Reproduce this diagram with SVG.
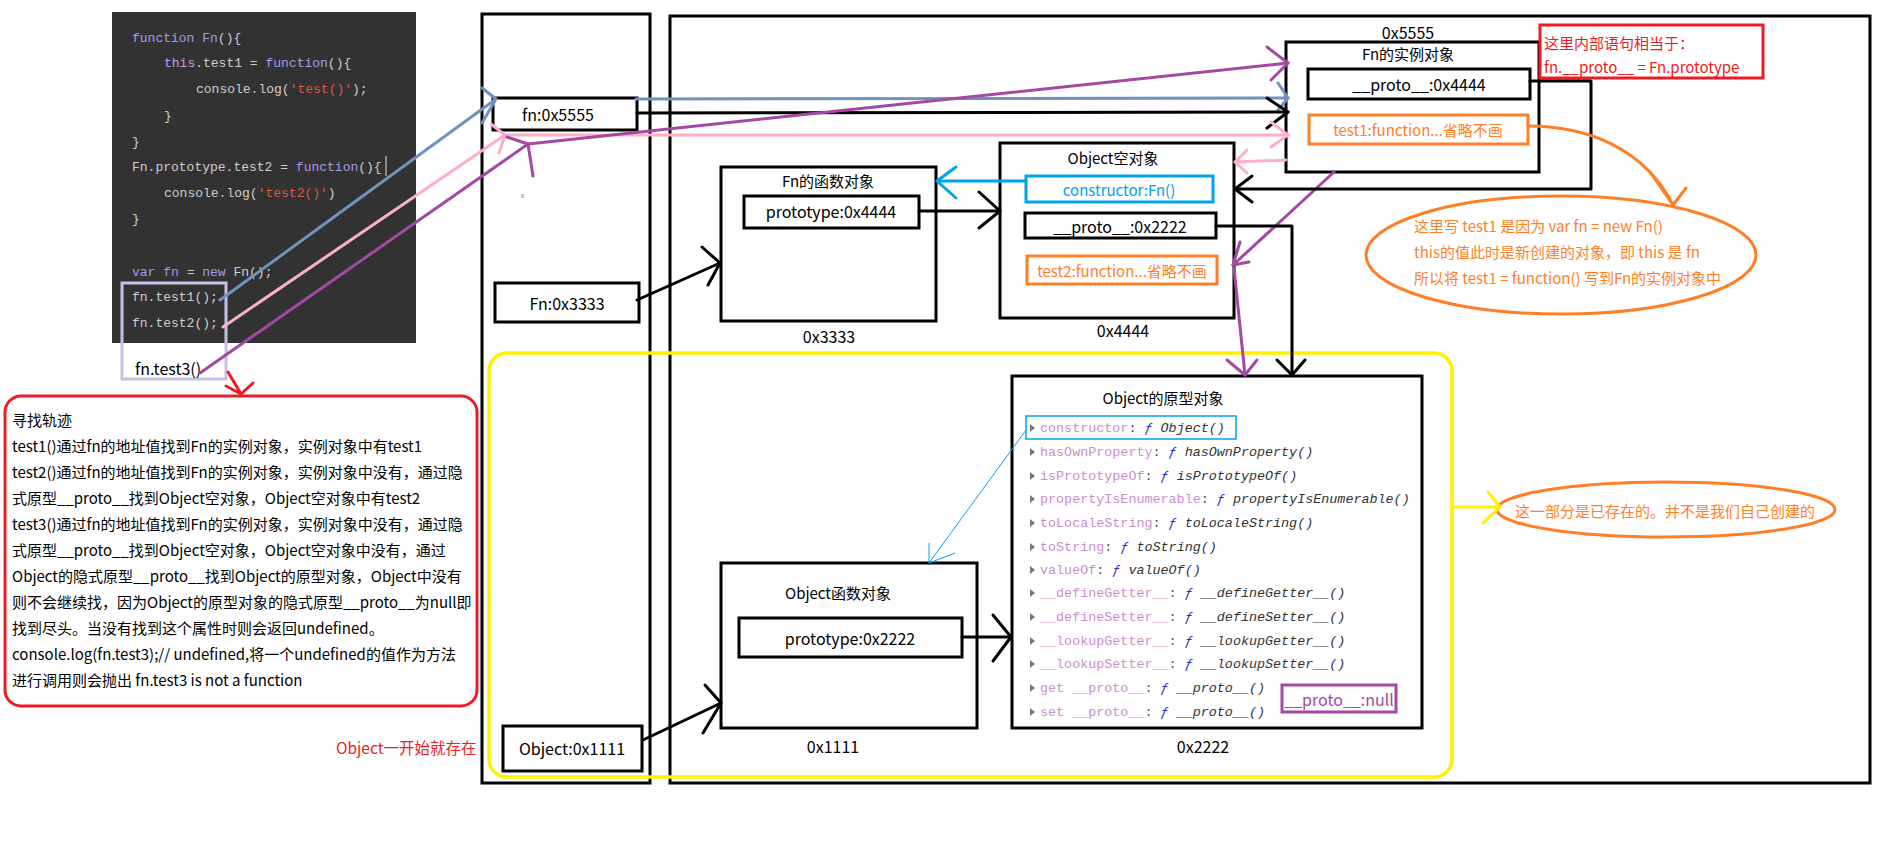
<svg xmlns="http://www.w3.org/2000/svg" width="1894" height="844" viewBox="0 0 1894 844">
<style>
text{font-family:"Noto Sans CJK SC","Noto Sans",sans-serif;dominant-baseline:central;white-space:pre}
.mono{font-family:"Liberation Mono","DejaVu Sans Mono",monospace;font-size:13px}
.bx{fill:none;stroke:#000;stroke-width:3}
.ln{fill:none;stroke-width:3;stroke-linejoin:round;stroke-linecap:round}
.blk{stroke:#000}.blu{stroke:#7092be}.pnk{stroke:#ffaec9}.pur{stroke:#a349a4}.org{stroke:#ff7f27}.yel{stroke:#fff200}.sky{stroke:#00a2e8}.red{stroke:#ed1c24}
.kw{fill:#a79be3}.fnm{fill:#9c9cf0}.ths{fill:#c39ee6}.pl{fill:#cfcfcf}.str{fill:#d9594c}
.k{fill:#c98fc9}.c{fill:#555}.f{fill:#2a2ad0;font-style:italic}.v{fill:#333;font-style:italic}
.pm{font-family:"Liberation Mono","DejaVu Sans Mono",monospace;font-size:13.4px}
.tri{fill:#777}
</style>
<rect width="1894" height="844" fill="#fff"/>

<!-- containers -->
<g id="stack">
<rect class="bx" x="482" y="14" width="168" height="769"/>
</g>
<g id="heap">
<rect class="bx" x="670" y="16" width="1200" height="767"/>
</g>
<g id="builtin-region">
<rect x="489" y="353" width="963" height="424" rx="18" fill="none" stroke="#fff200" stroke-width="3.5"/>
</g>

<!-- code -->
<g id="code">
<rect x="112" y="12" width="304" height="331" fill="#323232"/>
<text class="mono" x="132" y="38"><tspan class="kw">function</tspan><tspan class="pl"> </tspan><tspan class="fnm">Fn</tspan><tspan class="pl">(){</tspan></text>
<text class="mono" x="164" y="63"><tspan class="ths">this</tspan><tspan class="pl">.test1 = </tspan><tspan class="kw">function</tspan><tspan class="pl">(){</tspan></text>
<text class="mono" x="196" y="89"><tspan class="pl">console.log(</tspan><tspan class="str">'test()'</tspan><tspan class="pl">);</tspan></text>
<text class="mono pl" x="164" y="116">}</text>
<text class="mono pl" x="132" y="142">}</text>
<text class="mono" x="132" y="167"><tspan class="pl">Fn.prototype.test2 = </tspan><tspan class="kw">function</tspan><tspan class="pl">(){</tspan></text>
<line x1="386" y1="156" x2="386" y2="176" stroke="#e0e0e0" stroke-width="1"/>
<text class="mono" x="164" y="193"><tspan class="pl">console.log(</tspan><tspan class="str">'test2()'</tspan><tspan class="pl">)</tspan></text>
<text class="mono pl" x="132" y="219">}</text>
<text class="mono" x="132" y="272"><tspan class="kw">var</tspan><tspan class="pl"> </tspan><tspan class="fnm">fn</tspan><tspan class="pl"> = </tspan><tspan class="kw">new</tspan><tspan class="pl"> Fn();</tspan></text>
<text class="mono pl" x="132" y="297">fn.test1();</text>
<text class="mono pl" x="132" y="323">fn.test2();</text>
<rect x="122" y="283" width="104" height="96" fill="none" stroke="#c8bfe7" stroke-width="3"/>
<text x="135" y="368" font-size="16" fill="#000">fn.test3()</text>
</g>

<!-- explanation box -->
<g id="trace-note">
<rect x="5" y="396" width="472" height="310" rx="16" fill="none" stroke="#ed1c24" stroke-width="3"/>
<g font-size="15" fill="#000">
<text x="12" y="419">寻找轨迹</text>
<text x="12" y="445">test1()通过fn的地址值找到Fn的实例对象，实例对象中有test1</text>
<text x="12" y="471">test2()通过fn的地址值找到Fn的实例对象，实例对象中没有，通过隐</text>
<text x="12" y="497">式原型__proto__找到Object空对象，Object空对象中有test2</text>
<text x="12" y="523">test3()通过fn的地址值找到Fn的实例对象，实例对象中没有，通过隐</text>
<text x="12" y="549">式原型__proto__找到Object空对象，Object空对象中没有，通过</text>
<text x="12" y="575">Object的隐式原型__proto__找到Object的原型对象，Object中没有</text>
<text x="12" y="601">则不会继续找，因为Object的原型对象的隐式原型__proto__为null即</text>
<text x="12" y="627">找到尽头。当没有找到这个属性时则会返回undefined。</text>
<text x="12" y="653">console.log(fn.test3);// undefined,将一个undefined的值作为方法</text>
<text x="12" y="679">进行调用则会抛出 fn.test3 is not a function</text>
</g>
</g>

<g id="object-exists-note">
<text x="336" y="747" font-size="15.5" fill="#ed1c24">Object一开始就存在</text>
</g>

<!-- stack variables -->
<g id="var-fn">
<rect class="bx" x="493" y="98" width="144" height="32"/>
<text x="558" y="114" font-size="16" text-anchor="middle">fn:0x5555</text>
</g>
<g id="var-Fn">
<rect class="bx" x="495" y="283" width="144" height="39"/>
<text x="567" y="303" font-size="16" text-anchor="middle">Fn:0x3333</text>
</g>
<g id="var-Object">
<rect class="bx" x="503" y="726" width="139" height="45"/>
<text x="572" y="748" font-size="16" text-anchor="middle">Object:0x1111</text>
</g>

<!-- Fn function object -->
<g id="fn-function-object">
<rect class="bx" x="721" y="167" width="215" height="154"/>
<text x="828" y="180" font-size="15" text-anchor="middle">Fn的函数对象</text>
<rect class="bx" x="744" y="196" width="175" height="32"/>
<text x="831" y="211" font-size="16" text-anchor="middle">prototype:0x4444</text>
<text x="829" y="336" font-size="16" text-anchor="middle">0x3333</text>
</g>

<!-- Object empty object -->
<g id="object-empty">
<rect class="bx" x="1000" y="143" width="234" height="175"/>
<text x="1113" y="157" font-size="15" text-anchor="middle">Object空对象</text>
<rect x="1026" y="176" width="187" height="26" fill="none" stroke="#00a2e8" stroke-width="3"/>
<text x="1119" y="189" font-size="15" fill="#00a2e8" text-anchor="middle">constructor:Fn()</text>
<rect class="bx" x="1025" y="213" width="191" height="25"/>
<text x="1120" y="226" font-size="16" text-anchor="middle">__proto__:0x2222</text>
<rect x="1027" y="256" width="190" height="28" fill="none" stroke="#ff7f27" stroke-width="3"/>
<text x="1122" y="270" font-size="15" fill="#ff7f27" text-anchor="middle">test2:function...省略不画</text>
<text x="1123" y="330" font-size="16" text-anchor="middle">0x4444</text>
</g>

<!-- Fn instance -->
<g id="fn-instance">
<text x="1408" y="32" font-size="16" text-anchor="middle">0x5555</text>
<rect class="bx" x="1286" y="42" width="253" height="130"/>
<text x="1408" y="53" font-size="15" text-anchor="middle">Fn的实例对象</text>
<rect class="bx" x="1308" y="69" width="222" height="30"/>
<text x="1419" y="84" font-size="16" text-anchor="middle">__proto__:0x4444</text>
<rect x="1309" y="115" width="219" height="29" fill="none" stroke="#ff7f27" stroke-width="3"/>
<text x="1418" y="129" font-size="15" fill="#ff7f27" text-anchor="middle">test1:function...省略不画</text>
</g>

<g id="proto-note">
<rect x="1540" y="25" width="223" height="53" fill="none" stroke="#ed1c24" stroke-width="3"/>
<text x="1544" y="42" font-size="15" fill="#ed1c24">这里内部语句相当于：</text>
<text x="1544" y="66" font-size="15" fill="#ed1c24">fn.__proto__ = Fn.prototype</text>
</g>

<g id="this-note">
<ellipse cx="1561" cy="255" rx="195" ry="59" fill="none" stroke="#ff7f27" stroke-width="3"/>
<g font-size="15" fill="#ff7f27">
<text x="1414" y="225">这里写 test1 是因为 var fn = new Fn()</text>
<text x="1414" y="251">this的值此时是新创建的对象，即 this 是 fn</text>
<text x="1414" y="277">所以将 test1 = function() 写到Fn的实例对象中</text>
</g>
</g>

<!-- Object function object -->
<g id="object-function">
<rect class="bx" x="721" y="563" width="256" height="165"/>
<text x="838" y="592" font-size="15" text-anchor="middle">Object函数对象</text>
<rect class="bx" x="739" y="618" width="223" height="39"/>
<text x="850" y="638" font-size="16" text-anchor="middle">prototype:0x2222</text>
<text x="833" y="746" font-size="16" text-anchor="middle">0x1111</text>
</g>

<!-- Object prototype -->
<g id="object-prototype">
<rect class="bx" x="1012" y="376" width="410" height="352"/>
<text x="1163" y="397" font-size="15" text-anchor="middle">Object的原型对象</text>
<rect x="1026" y="416" width="210" height="23" fill="none" stroke="#00a2e8" stroke-width="1.5"/>
<g class="pm">
<polygon class="tri" points="1030,424 1035,428 1030,432"/>
<text class="pm" x="1040" y="428"><tspan class="k">constructor</tspan><tspan class="c">: </tspan><tspan class="f">ƒ</tspan><tspan class="v"> Object()</tspan></text>
<polygon class="tri" points="1030,448 1035,452 1030,456"/>
<text class="pm" x="1040" y="452"><tspan class="k">hasOwnProperty</tspan><tspan class="c">: </tspan><tspan class="f">ƒ</tspan><tspan class="v"> hasOwnProperty()</tspan></text>
<polygon class="tri" points="1030,472 1035,476 1030,480"/>
<text class="pm" x="1040" y="476"><tspan class="k">isPrototypeOf</tspan><tspan class="c">: </tspan><tspan class="f">ƒ</tspan><tspan class="v"> isPrototypeOf()</tspan></text>
<polygon class="tri" points="1030,495 1035,499 1030,503"/>
<text class="pm" x="1040" y="499"><tspan class="k">propertyIsEnumerable</tspan><tspan class="c">: </tspan><tspan class="f">ƒ</tspan><tspan class="v"> propertyIsEnumerable()</tspan></text>
<polygon class="tri" points="1030,519 1035,523 1030,527"/>
<text class="pm" x="1040" y="523"><tspan class="k">toLocaleString</tspan><tspan class="c">: </tspan><tspan class="f">ƒ</tspan><tspan class="v"> toLocaleString()</tspan></text>
<polygon class="tri" points="1030,543 1035,547 1030,551"/>
<text class="pm" x="1040" y="547"><tspan class="k">toString</tspan><tspan class="c">: </tspan><tspan class="f">ƒ</tspan><tspan class="v"> toString()</tspan></text>
<polygon class="tri" points="1030,566 1035,570 1030,574"/>
<text class="pm" x="1040" y="570"><tspan class="k">valueOf</tspan><tspan class="c">: </tspan><tspan class="f">ƒ</tspan><tspan class="v"> valueOf()</tspan></text>
<polygon class="tri" points="1030,589 1035,593 1030,597"/>
<text class="pm" x="1040" y="593"><tspan class="k">__defineGetter__</tspan><tspan class="c">: </tspan><tspan class="f">ƒ</tspan><tspan class="v"> __defineGetter__()</tspan></text>
<polygon class="tri" points="1030,613 1035,617 1030,621"/>
<text class="pm" x="1040" y="617"><tspan class="k">__defineSetter__</tspan><tspan class="c">: </tspan><tspan class="f">ƒ</tspan><tspan class="v"> __defineSetter__()</tspan></text>
<polygon class="tri" points="1030,637 1035,641 1030,645"/>
<text class="pm" x="1040" y="641"><tspan class="k">__lookupGetter__</tspan><tspan class="c">: </tspan><tspan class="f">ƒ</tspan><tspan class="v"> __lookupGetter__()</tspan></text>
<polygon class="tri" points="1030,660 1035,664 1030,668"/>
<text class="pm" x="1040" y="664"><tspan class="k">__lookupSetter__</tspan><tspan class="c">: </tspan><tspan class="f">ƒ</tspan><tspan class="v"> __lookupSetter__()</tspan></text>
<polygon class="tri" points="1030,684 1035,688 1030,692"/>
<text class="pm" x="1040" y="688"><tspan class="k">get __proto__</tspan><tspan class="c">: </tspan><tspan class="f">ƒ</tspan><tspan class="v"> __proto__()</tspan></text>
<polygon class="tri" points="1030,708 1035,712 1030,716"/>
<text class="pm" x="1040" y="712"><tspan class="k">set __proto__</tspan><tspan class="c">: </tspan><tspan class="f">ƒ</tspan><tspan class="v"> __proto__()</tspan></text>
</g>
<rect x="1282" y="685" width="114" height="27" fill="none" stroke="#a349a4" stroke-width="3"/>
<text x="1339" y="699" font-size="16" fill="#a349a4" text-anchor="middle">__proto__:null</text>
<text x="1203" y="746" font-size="16" text-anchor="middle">0x2222</text>
</g>

<g id="builtin-note">
<ellipse cx="1666" cy="509.5" rx="169" ry="27.5" fill="none" stroke="#ff7f27" stroke-width="3"/>
<text x="1665" y="510" font-size="15" fill="#ff7f27" text-anchor="middle">这一部分是已存在的。并不是我们自己创建的</text>
</g>

<!-- connectors -->
<g id="connectors">
<polyline class="ln blu" points="220,300 496,99"/>
<polyline class="ln blu" points="482,88 496,99 482,123"/>
<polyline class="ln blu" points="636,99 1288,98"/>
<polyline class="ln blu" points="1278,83 1288,98 1278,110"/>
<polyline class="ln blk" points="637,113 1288,112"/>
<polyline class="ln blk" points="1267,98 1288,112 1267,128"/>
<polyline class="ln pnk" points="223,327 505,135"/>
<polyline class="ln pnk" points="491,124 505,135 499,153"/>
<polyline class="ln pnk" points="505,135 1288,135"/>
<polyline class="ln pnk" points="1271,122 1288,135 1271,147"/>
<polyline class="ln pnk" points="1286,160 1235,162"/>
<polyline class="ln pnk" points="1247,150 1235,162 1247,173"/>
<rect x="521" y="194" width="3" height="4" fill="#ffaec9"/>
<polyline class="ln pur" points="200,373 528,144"/>
<polyline class="ln pur" points="507,137 528,144 533,176"/>
<polyline class="ln pur" points="528,144 1288,63"/>
<polyline class="ln pur" points="1267,47 1288,63 1271,80"/>
<polyline class="ln pur" points="1334,172 1233,265"/>
<polyline class="ln pur" points="1240,242 1233,265 1249,262"/>
<polyline class="ln pur" points="1234,268 1245,375"/>
<polyline class="ln pur" points="1227,360 1245,375 1257,360"/>
<polyline class="ln blk" points="1530,81 1591,81 1591,189 1235,189"/>
<polyline class="ln blk" points="1252,176 1235,189 1252,202"/>
<polyline class="ln sky" points="1026,181 937,181"/>
<polyline class="ln sky" points="956,167 937,181 956,198"/>
<polyline class="ln blk" points="919,211 1000,211"/>
<polyline class="ln blk" points="979,192 1000,211 979,228"/>
<polyline class="ln blk" points="637,300 720,263"/>
<polyline class="ln blk" points="702,247 720,263 708,285"/>
<polyline class="ln blk" points="1216,226 1292,226 1292,375"/>
<polyline class="ln blk" points="1277,360 1292,375 1305,360"/>
<polyline class="ln blk" points="643,740 721,703"/>
<polyline class="ln blk" points="705,685 721,703 703,733"/>
<polyline class="ln blk" points="962,637 1011,637"/>
<polyline class="ln blk" points="993,615 1011,637 993,661"/>
<polyline fill="none" stroke="#00a2e8" stroke-width="1" points="1026,430 929,563"/>
<polyline fill="none" stroke="#00a2e8" stroke-width="1" points="929,543 929,563 955,553"/>
<path class="ln org" d="M1528,126 C1590,126 1645,150 1673,205"/>
<polyline class="ln org" points="1650,172 1673,205 1686,188"/>
<polyline class="ln yel" points="1452,507 1500,507"/>
<polyline class="ln yel" points="1488,492 1500,507 1483,523"/>
<polyline class="ln red" points="228,372 241,394"/>
<polyline class="ln red" points="226,386 241,394 253,383"/>
</g>
</svg>
